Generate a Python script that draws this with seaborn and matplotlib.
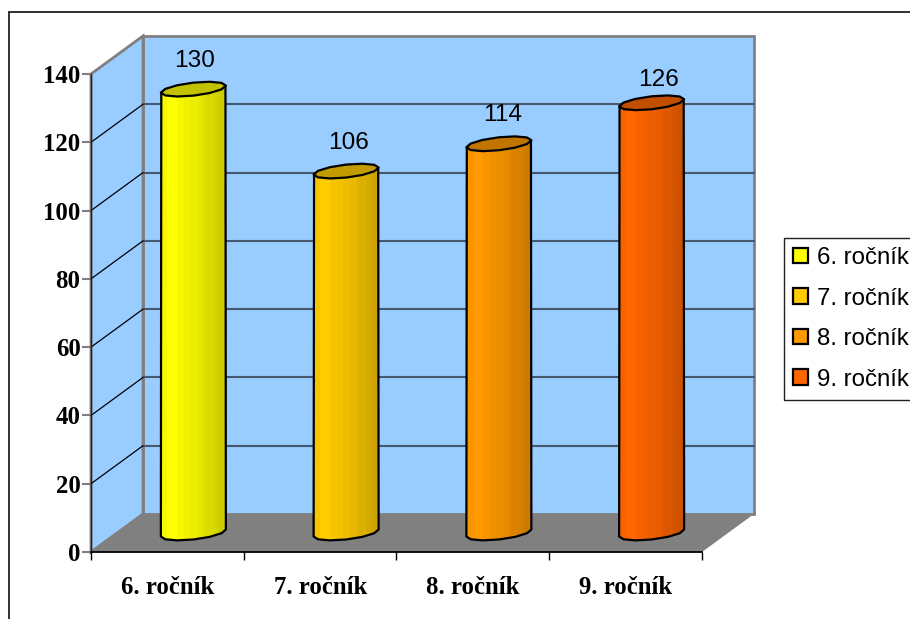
import numpy as np
import pandas as pd
import matplotlib
matplotlib.use("Agg")
import matplotlib.pyplot as plt
from matplotlib.patches import Patch, Polygon, Rectangle
from matplotlib.colors import to_rgb
import seaborn as sns

# values
categories = ["6. ročník", "7. ročník", "8. ročník", "9. ročník"]
pupils = [130, 106, 114, 126]
bar_colors = ["#FFFF00", "#FFCC00", "#FF9900", "#FF6600"]
y_ticks = [0, 20, 40, 60, 80, 100, 120, 140]

W, H = 910, 619
sns.set_theme(style="white")
plt.rcParams["font.family"] = ["Liberation Sans", "DejaVu Sans"]

fig = plt.figure(figsize=(W / 100, H / 100), dpi=100)
ax = fig.add_axes([91 / W, (H - 552) / H, (702 - 91) / W, (552 - 74) / H])

df = pd.DataFrame({"grade": categories, "pupils": pupils})
sns.barplot(data=df, x="grade", y="pupils", hue="grade", palette=bar_colors,
            width=0.42, dodge=False, legend=False, ax=ax, zorder=3)
ax.set_xlim(-0.5, 3.5)
ax.set_ylim(0, 140)

# pixels per data unit, used for the fake 3d depth
px_x = (702 - 91) / 4
px_y = (552 - 74) / 140
depth_x = 52 / px_x
depth_y = 38 / px_y

WALL = "#99CCFF"
EDGE = "#808080"

# back wall, side wall and floor
ax.add_patch(Polygon([(-0.5 + depth_x, depth_y), (3.5 + depth_x, depth_y),
                      (3.5 + depth_x, 140 + depth_y), (-0.5 + depth_x, 140 + depth_y)],
                     fc=WALL, ec=EDGE, lw=2, clip_on=False, zorder=0))
ax.add_patch(Polygon([(-0.5, 0), (-0.5 + depth_x, depth_y),
                      (-0.5 + depth_x, 140 + depth_y), (-0.5, 140)],
                     fc=WALL, ec=EDGE, lw=2, clip_on=False, zorder=0.5))
ax.add_patch(Polygon([(-0.5, 0), (3.5, 0), (3.5 + depth_x, depth_y), (-0.5 + depth_x, depth_y)],
                     fc=EDGE, ec="none", clip_on=False, zorder=1))

# gridlines on the walls
for t in y_ticks[1:-1]:
    ax.plot([-0.5 + depth_x, 3.5 + depth_x], [t + depth_y, t + depth_y],
            color="#46586E", lw=1.5, clip_on=False, zorder=1)
    ax.plot([-0.5, -0.5 + depth_x], [t, t + depth_y], color="black", lw=0.9,
            clip_on=False, zorder=1)

SLANT = 3.5  # px, right side of the rim sits higher than the left


def rim(cx, cy, n=12):
    # coarse slanted ellipse, the original has a jagged outline
    t = np.linspace(0, 2 * np.pi, n, endpoint=False)
    xs = cx + (32.5 / px_x) * np.cos(t)
    ys = cy + (6.5 * np.sin(t) + SLANT * np.cos(t)) / px_y
    return np.column_stack([xs, ys])


# facet shades across the cylinder, left to right
shades = [0.97, 0.97, 1.0, 1.0, 1.0, 0.97, 0.97, 0.95, 0.95, 0.93,
          0.93, 0.91, 0.91, 0.88, 0.86, 0.86, 0.84, 0.82, 0.80, 0.80]

# label nudges in pixels, the original labels drift away from the bar centres
label_dx = [1, 2, 4, 7]
label_lift = [28, 28, 29, 23]

bars = [p for c in ax.containers for p in c]
for i, (bar, value, color) in enumerate(zip(bars, pupils, bar_colors)):
    # shift the bar half way into the depth of the box
    bar.set_x(bar.get_x() + depth_x / 2)
    bar.set_y(depth_y / 2)
    x0, x1 = bar.get_x(), bar.get_x() + bar.get_width()
    cx = (x0 + x1) / 2
    bottom, top = depth_y / 2, value + depth_y / 2
    bar.set_visible(False)

    rgb = np.array(to_rgb(color))
    strip = np.array([[rgb * s for s in shades]])

    # body = top left of the rim, down, lower half of the bottom rim, back up
    low = rim(cx, bottom)[6:]
    low = np.vstack([low, rim(cx, bottom)[:1]])
    outline = [(x0, top - SLANT / px_y)] + [tuple(p) for p in low] + [(x1, top + SLANT / px_y)]

    body = Polygon(outline, fc="none", ec="black", lw=1.6, zorder=4, joinstyle="round")
    ax.add_patch(body)
    im = ax.imshow(strip, extent=(x0, x1, 0, top + 2), aspect="auto",
                   interpolation="nearest", zorder=3)
    im.set_clip_path(body)

    ax.add_patch(Polygon(rim(cx, top), fc=rgb * 0.76, ec="black", lw=1.6, zorder=5,
                         clip_on=False, joinstyle="round"))
    ax.annotate(str(value), (cx, top),
                xytext=(label_dx[i] * 0.72, label_lift[i] * 0.72), textcoords="offset points",
                ha="center", va="center", fontsize=17.6, color="black", zorder=6,
                annotation_clip=False)

ax.set_xlim(-0.5, 3.5)
ax.set_ylim(0, 140)

# axes
ax.set_xlabel("")
ax.set_ylabel("")
for s in ["top", "right"]:
    ax.spines[s].set_visible(False)
ax.spines["left"].set_color("#202020")
ax.spines["left"].set_linewidth(1)
ax.spines["left"].set_zorder(2)
ax.spines["bottom"].set_color("black")
ax.spines["bottom"].set_linewidth(1.3)

ax.set_yticks(y_ticks)
ax.set_xticks([-0.5, 0.5, 1.5, 2.5, 3.5])
ax.set_xticklabels([])
ax.set_xticks(range(4), minor=True)
ax.set_xticklabels(categories, minor=True, family=["Liberation Serif"], fontweight="bold",
                   fontsize=17.8, color="black")
ax.tick_params(axis="x", which="major", bottom=True, length=6, width=1, color="black")
ax.tick_params(axis="x", which="minor", bottom=False, length=0, pad=17)
ax.tick_params(axis="y", left=True, length=6.5, width=1.5, color=EDGE, pad=1)
for lab in ax.get_yticklabels():
    lab.set_family(["Liberation Serif"])
    lab.set_fontweight("bold")
    lab.set_fontsize(17.8)
    lab.set_color("black")

# outer chart frame, runs off the right and bottom of the picture
fig.add_artist(Rectangle((9 / W, -0.05), 1.1, (H - 12) / H + 0.05, transform=fig.transFigure,
                         fc="none", ec="#202020", lw=1.3))

handles = [Patch(fc=c, ec="black", lw=1.6, label=g) for c, g in zip(bar_colors, categories)]
fig.legend(handles=handles, loc="upper left", bbox_to_anchor=(784 / W, (H - 238) / H),
           borderaxespad=0, frameon=True, fancybox=False, edgecolor="#202020", framealpha=1,
           handlelength=0.62, handleheight=0.62, handletextpad=0.36, labelcolor="black",
           labelspacing=0.77, borderpad=0.38, prop={"family": ["Liberation Sans"], "size": 17.3})

fig.savefig("out.png", dpi=100, facecolor="white")
